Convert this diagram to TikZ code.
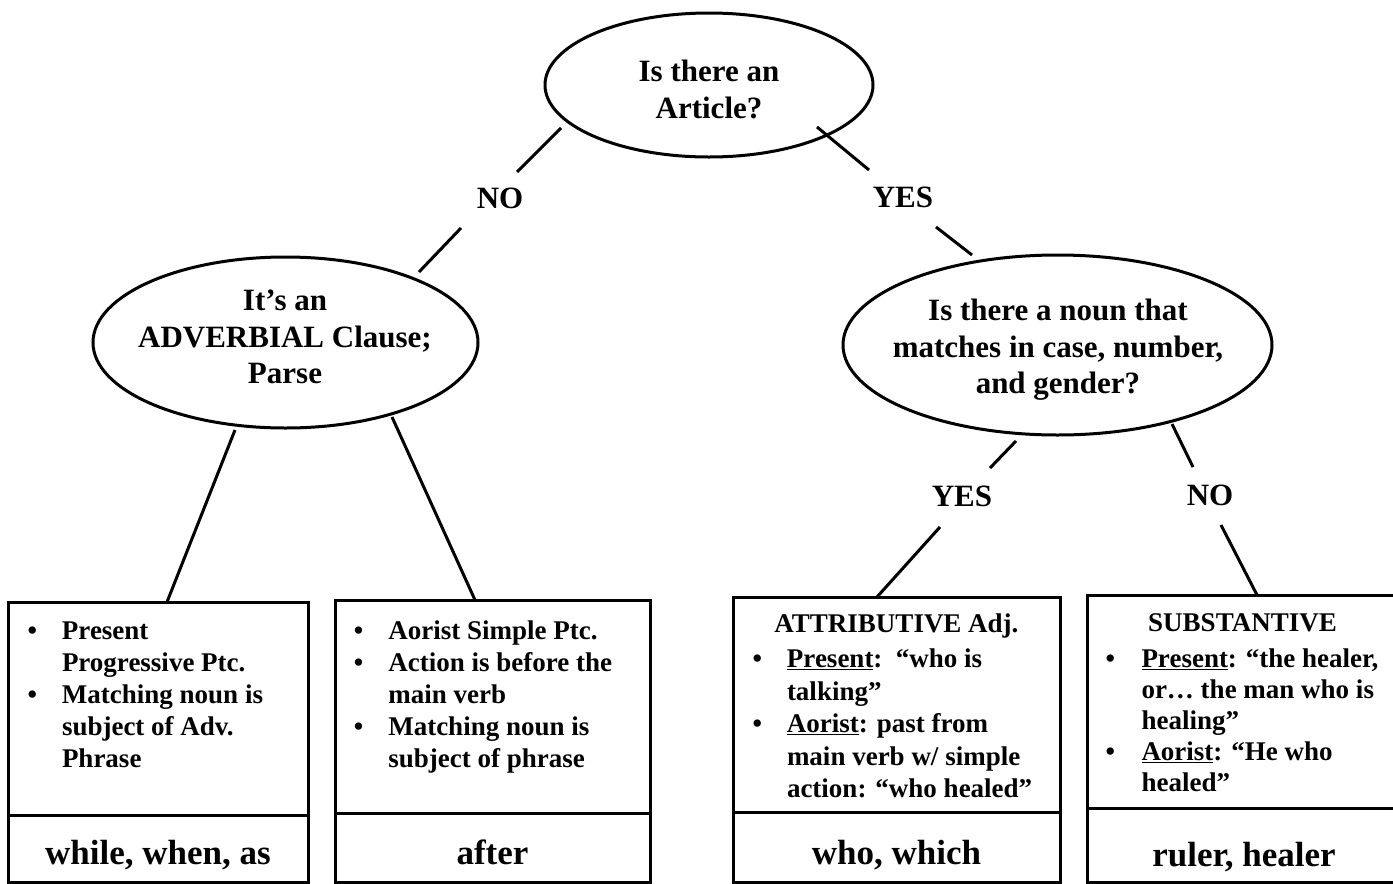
\documentclass[tikz,border=0pt]{standalone}
\usepackage{fontspec}
\setmainfont{Liberation Serif}
\usetikzlibrary{shapes.geometric}
\newcommand{\bul}{\makebox[34.5pt][l]{•}}
\newcommand{\ind}{\hspace*{34.5pt}}
\newcommand{\bulx}{\makebox[36pt][l]{•}}
\newcommand{\indx}{\hspace*{36pt}}
\begin{document}
\begin{tikzpicture}[x=1pt,y=-1pt,
  frame/.style={draw, line width=3pt, inner sep=0pt, outer sep=0pt, anchor=north west},
  oval/.style={draw, ellipse, line width=3pt, inner sep=0pt, outer sep=0pt},
  qtext/.style={align=center, font=\fontsize{31}{36.5}\selectfont\bfseries, inner sep=0pt},
  lab/.style={font=\fontsize{31}{36}\selectfont\bfseries, inner sep=0pt},
  title/.style={font=\fontsize{27}{32}\selectfont\bfseries, inner sep=0pt, anchor=base},
  body/.style={align=left, inner sep=0pt, anchor=north west, font=\fontsize{27}{32}\selectfont\bfseries},
  word/.style={font=\fontsize{35}{40}\selectfont\bfseries, inner sep=0pt, anchor=base},
  conn/.style={line width=3pt}
]
\useasboundingbox (0,0) rectangle (1393,884);
\fill[white] (0,0) rectangle (1393,884);

% question ellipses
\node[oval, minimum width=328pt, minimum height=144pt] (q1) at (709,85) {};
\node[qtext] (q1t) at (709,89.5) {Is there an\\Article?};
\node[oval, minimum width=385pt, minimum height=171pt] (q2) at (285.5,342.5) {};
\node[qtext] (q2t) at (285,337) {It’s an\\ADVERBIAL Clause;\\Parse};
\node[oval, minimum width=429pt, minimum height=180pt] (q3) at (1057.5,345) {};
\node[qtext] (q3t) at (1058,350) {Is there a noun that\\matches in case, number,\\and gender?};

% branch labels
\node[lab] (no1) at (500,198) {NO};
\node[lab] (yes1) at (903,197) {YES};
\node[lab] (yes2) at (962,496) {YES};
\node[lab] (no2) at (1210,495) {NO};

% boxes
\node[frame, minimum width=300pt, minimum height=213pt] (b1) at (8,602) {};
\node[frame, minimum width=300pt, minimum height=67pt] (w1) at (b1.south west) {};
\node[frame, minimum width=315pt, minimum height=213pt] (b2) at (335,600) {};
\node[frame, minimum width=315pt, minimum height=69pt] (w2) at (b2.south west) {};
\node[frame, minimum width=327pt, minimum height=215pt] (b3) at (733,597) {};
\node[frame, minimum width=327pt, minimum height=70pt] (w3) at (b3.south west) {};
\node[frame, minimum width=313pt, minimum height=213pt] (b4) at (1087,595) {};
\node[frame, minimum width=313pt, minimum height=74pt] (w4) at (b4.south west) {};

% connector end points
\coordinate (n1a) at (561,128); \coordinate (n1b) at (517,172);
\coordinate (n1c) at (461,228); \coordinate (n1d) at (419,272);
\coordinate (y1a) at (817,127); \coordinate (y1b) at (869,170);
\coordinate (y1c) at (936,227); \coordinate (y1d) at (972,255);
\coordinate (l1a) at (235,430); \coordinate (l1b) at (167,602);
\coordinate (l2a) at (392,417); \coordinate (l2b) at (475,600);
\coordinate (y2a) at (1016,441); \coordinate (y2b) at (990,468);
\coordinate (y2c) at (940,527); \coordinate (y2d) at (877,597);
\coordinate (n2a) at (1172,424); \coordinate (n2b) at (1193,467);
\coordinate (n2c) at (1221,525); \coordinate (n2d) at (1257,595);

\draw[conn] (n1a) -- (n1b); \draw[conn] (n1c) -- (n1d);
\draw[conn] (y1a) -- (y1b); \draw[conn] (y1c) -- (y1d);
\draw[conn] (l1a) -- (l1b); \draw[conn] (l2a) -- (l2b);
\draw[conn] (y2a) -- (y2b); \draw[conn] (y2c) -- (y2d);
\draw[conn] (n2a) -- (n2b); \draw[conn] (n2c) -- (n2d);

% box texts
\node[body] (t1) at (27.3,622) {\bul Present\\\ind Progressive Ptc.\\\bul Matching noun is\\\ind subject of Adv.\\\ind Phrase};
\node[body] (t2) at (353.6,621) {\bul Aorist Simple Ptc.\\\bul Action is before the\\\ind main verb\\\bul Matching noun is\\\ind subject of phrase};
\node[title] (h3) at (896.5,632) {ATTRIBUTIVE Adj.};
\node[body, font=\fontsize{27}{32.5}\selectfont\bfseries] (t3) at (752.3,649) {\bul \underline{Present}:\ \ “who is\\\ind talking”\\\bul \underline{Aorist}: past from\\\ind main verb w/ simple\\\ind action: “who healed”};
\node[title] (h4) at (1242.5,631) {SUBSTANTIVE};
\node[body, font=\fontsize{27}{31}\selectfont\bfseries] (t4) at (1105.3,649) {\bulx \underline{Present}: “the healer,\\\indx or… the man who is\\\indx healing”\\\bulx \underline{Aorist}: “He who\\\indx healed”};

% answer words
\node[word] (a1) at (158,864) {while, when, as};
\node[word] (a2) at (492.5,864) {after};
\node[word] (a3) at (896.5,864) {who, which};
\node[word] (a4) at (1244,866) {ruler, healer};
\end{tikzpicture}
\end{document}
